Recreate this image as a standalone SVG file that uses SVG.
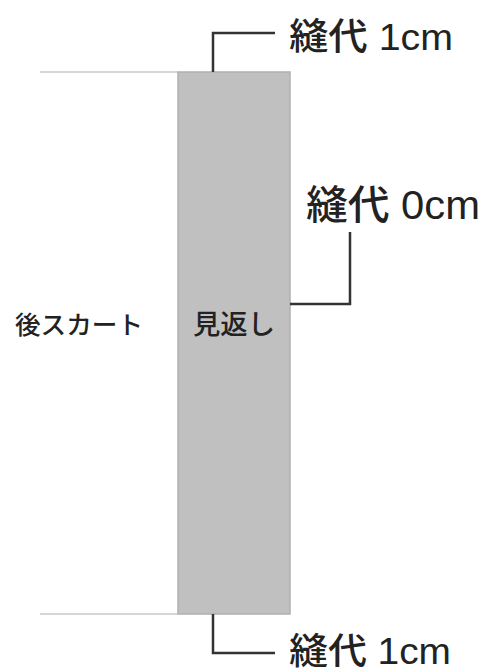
<svg xmlns="http://www.w3.org/2000/svg" width="484" height="672" viewBox="0 0 484 672">
<style>
.t{font-family:"Liberation Sans","Noto Sans CJK JP",sans-serif;fill:#222;font-weight:500}
.c{fill:none;stroke:#333;stroke-width:2.5}
.g{stroke:#c8c8c8;stroke-width:1.5}
</style>
<rect width="484" height="672" fill="#fff"/>
<g id="guides">
<line class="g" x1="40" y1="72" x2="178" y2="72"/>
<line class="g" x1="40" y1="614" x2="178" y2="614"/>
</g>
<g id="facing">
<rect x="178" y="72" width="112" height="542" fill="#c0c0c0" stroke="#b0b0b0" stroke-width="1.5"/>
<text class="t" x="193" y="334" font-size="27" textLength="82" lengthAdjust="spacingAndGlyphs">見返し</text>
</g>
<g id="skirt">
<text class="t" x="15" y="334" font-size="25" textLength="128" lengthAdjust="spacingAndGlyphs">後スカート</text>
</g>
<g id="connectors">
<polyline class="c" points="213,72 213,33 275,33"/>
<polyline class="c" points="290,304 350,304 350,232"/>
<polyline class="c" points="213,614 213,653 275,653"/>
</g>
<g id="label-top">
<text class="t" x="289" y="50" font-size="37" textLength="164" lengthAdjust="spacingAndGlyphs">縫代 1cm</text>
</g>
<g id="label-mid">
<text class="t" x="306" y="219" font-size="40" textLength="174" lengthAdjust="spacingAndGlyphs">縫代 0cm</text>
</g>
<g id="label-bottom">
<text class="t" x="289" y="664" font-size="36" textLength="162" lengthAdjust="spacingAndGlyphs">縫代 1cm</text>
</g>
</svg>
